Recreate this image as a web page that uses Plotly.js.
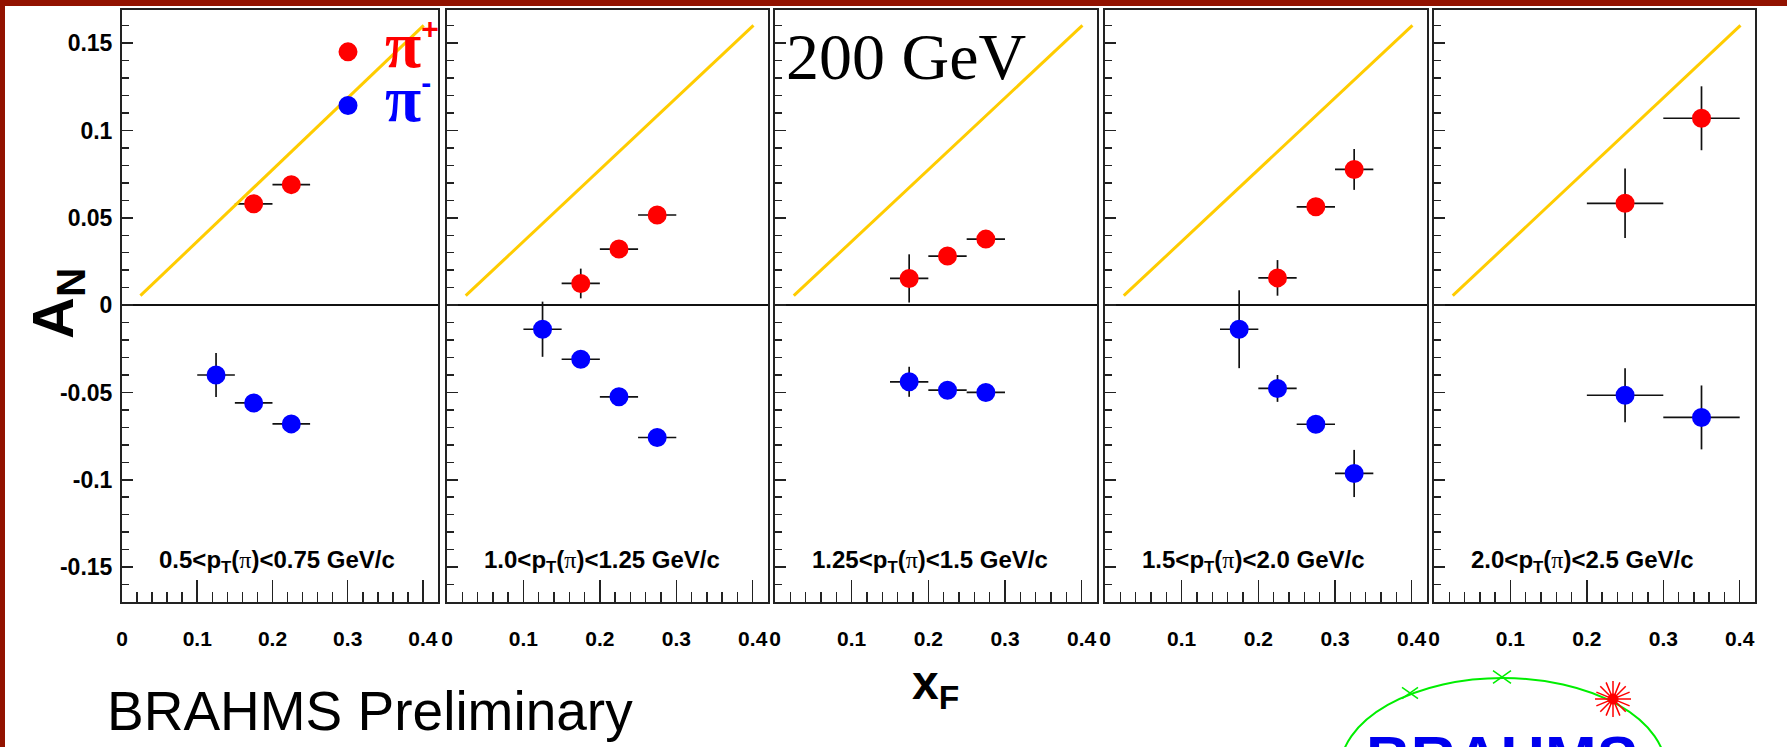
<!DOCTYPE html>
<html><head><meta charset="utf-8">
<script src="https://cdn.plot.ly/plotly-3.0.1.min.js"></script>
<style>html,body{margin:0;padding:0;background:#fff;}#plot{width:1787px;height:747px;}</style>
</head><body><div id="plot"></div>
<script>
// ---------------- data ----------------
const panelLabels = [
  '0.5&lt;p<sub>T</sub>(<span style="font-family:\'Liberation Serif\';font-weight:normal">π</span>)&lt;0.75 GeV/c',
  '1.0&lt;p<sub>T</sub>(<span style="font-family:\'Liberation Serif\';font-weight:normal">π</span>)&lt;1.25 GeV/c',
  '1.25&lt;p<sub>T</sub>(<span style="font-family:\'Liberation Serif\';font-weight:normal">π</span>)&lt;1.5 GeV/c',
  '1.5&lt;p<sub>T</sub>(<span style="font-family:\'Liberation Serif\';font-weight:normal">π</span>)&lt;2.0 GeV/c',
  '2.0&lt;p<sub>T</sub>(<span style="font-family:\'Liberation Serif\';font-weight:normal">π</span>)&lt;2.5 GeV/c'
];
const xTickVals = [0, 0.1, 0.2, 0.3, 0.4];
const xTickText = ['0', '0.1', '0.2', '0.3', '0.4'];
const yTickVals = [-0.15, -0.1, -0.05, 0, 0.05, 0.1, 0.15];
const yTickText = ['-0.15', '-0.1', '-0.05', '0', '0.05', '0.1', '0.15'];

// pi+ (red)
const piPlusX    = [[0.175, 0.225], [0.175, 0.225, 0.275], [0.175, 0.225, 0.275], [0.225, 0.275, 0.325], [0.25, 0.35]];
const piPlusY    = [[0.058, 0.069], [0.0124, 0.0321, 0.0516], [0.0153, 0.0281, 0.0378], [0.0156, 0.0563, 0.0777], [0.0583, 0.107]];
const piPlusErrY = [[0.004, 0.004], [0.0085, 0.004, 0.004], [0.0138, 0.004, 0.004], [0.0102, 0.004, 0.0117], [0.0199, 0.0183]];
const piPlusErrX = [[0.025, 0.025], [0.025, 0.025, 0.025], [0.025, 0.025, 0.025], [0.025, 0.025, 0.025], [0.05, 0.05]];
// pi- (blue)
const piMinusX    = [[0.125, 0.175, 0.225], [0.125, 0.175, 0.225, 0.275], [0.175, 0.225, 0.275], [0.175, 0.225, 0.275, 0.325], [0.25, 0.35]];
const piMinusY    = [[-0.040, -0.056, -0.068], [-0.0138, -0.031, -0.0525, -0.0758], [-0.0439, -0.0487, -0.050], [-0.0138, -0.0477, -0.0682, -0.0964], [-0.0516, -0.0643]];
const piMinusErrY = [[0.0126, 0.004, 0.004], [0.0158, 0.004, 0.004, 0.004], [0.0086, 0.004, 0.004], [0.0223, 0.0077, 0.004, 0.0135], [0.0154, 0.0183]];
const piMinusErrX = [[0.025, 0.025, 0.025], [0.025, 0.025, 0.025, 0.025], [0.025, 0.025, 0.025], [0.025, 0.025, 0.025, 0.025], [0.05, 0.05]];
// yellow reference line
const refLineX = [0.0245, 0.401];
const refLineY = [0.0054, 0.1602];

// ---------------- geometry ----------------
const W = 1787, H = 747;
const panelPx = [[122, 438], [447, 768], [775, 1097], [1105, 1427], [1434, 1755]];
const plotTop = 10, plotBottom = 602;
const px = v => v / W;
const py = v => 1 - v / H;

const FRAME = '#222';
const yTickFont = {family: 'Liberation Sans, Arial, sans-serif', size: 23, color: '#000', weight: 'bold'};
const xTickFont = {family: 'Liberation Sans, Arial, sans-serif', size: 21, color: '#000', weight: 'bold'};

const traces = [];
const layout = {
  width: W, height: H,
  margin: {l: 0, r: 0, t: 0, b: 0},
  paper_bgcolor: '#fff', plot_bgcolor: '#fff',
  showlegend: true,
  legend: {
    x: px(311), xanchor: 'left', y: py(20), yanchor: 'top',
    bgcolor: 'rgba(0,0,0,0)', borderwidth: 0, itemwidth: 64,
    font: {family: 'Liberation Serif, Times New Roman, serif', size: 39, color: '#000', weight: 'bold'},
    tracegroupgap: 0
  },
  annotations: [],
  shapes: []
};

const errStyle = {type: 'data', color: '#111', thickness: 1.7, width: 0};
const supStyle = 'font-family:\'Liberation Sans\';font-size:30px;font-weight:bold';

for (let i = 0; i < 5; i++) {
  const s = i === 0 ? '' : String(i + 1);
  const xa = 'x' + s, ya = 'y' + s;
  layout['xaxis' + s] = {
    domain: [px(panelPx[i][0]), px(panelPx[i][1])],
    anchor: ya, range: [0, 0.42],
    tickmode: 'array', tickvals: xTickVals, ticktext: xTickText,
    ticks: 'inside', ticklen: 22, tickwidth: 1.5, tickcolor: FRAME,
    minor: {ticks: 'inside', ticklen: 10, tickwidth: 1.5, tickcolor: FRAME, dtick: 0.02, tick0: 0, showgrid: false},
    tickfont: xTickFont, ticklabelstandoff: 17,
    showline: true, mirror: true, linewidth: 2, linecolor: FRAME,
    showgrid: false, zeroline: false, fixedrange: true
  };
  layout['yaxis' + s] = {
    domain: [py(plotBottom), py(plotTop)],
    anchor: xa, range: [-0.170, 0.169],
    tickmode: 'array', tickvals: yTickVals, ticktext: yTickText,
    showticklabels: i === 0,
    ticks: 'inside', ticklen: 11, tickwidth: 1.5, tickcolor: FRAME,
    minor: {ticks: 'inside', ticklen: 7, tickwidth: 1.5, tickcolor: FRAME, dtick: 0.01, tick0: 0, showgrid: false},
    tickfont: yTickFont, ticklabelstandoff: 3,
    showline: true, mirror: true, linewidth: 2, linecolor: FRAME,
    showgrid: false, zeroline: true, zerolinecolor: '#111', zerolinewidth: 2, fixedrange: true
  };

  traces.push({
    type: 'scatter', mode: 'markers', xaxis: xa, yaxis: ya,
    x: piPlusX[i], y: piPlusY[i],
    error_x: Object.assign({array: piPlusErrX[i]}, errStyle),
    error_y: Object.assign({array: piPlusErrY[i]}, errStyle),
    marker: {color: '#ff0000', size: 15, symbol: 'circle', line: {color: '#ff0000', width: 4}},
    name: '<span style="color:#ff0000"><span style="font-size:66px">π</span><sup><sup><span style="' + supStyle + '">+</span></sup></sup></span>',
    showlegend: i === 0, legendgroup: 'pip'
  });
  traces.push({
    type: 'scatter', mode: 'markers', xaxis: xa, yaxis: ya,
    x: piMinusX[i], y: piMinusY[i],
    error_x: Object.assign({array: piMinusErrX[i]}, errStyle),
    error_y: Object.assign({array: piMinusErrY[i]}, errStyle),
    marker: {color: '#0000ff', size: 15, symbol: 'circle', line: {color: '#0000ff', width: 4}},
    name: '<span style="color:#0000ff"><span style="font-size:66px">π</span><sup><sup><span style="' + supStyle + '">-</span></sup></sup></span>',
    showlegend: i === 0, legendgroup: 'pim'
  });
  traces.push({
    type: 'scatter', mode: 'lines', xaxis: xa, yaxis: ya,
    x: refLineX, y: refLineY,
    line: {color: '#ffcc00', width: 3},
    showlegend: false, hoverinfo: 'skip'
  });

  layout.annotations.push({
    xref: xa, yref: ya, x: 0.046, y: -0.147, xanchor: 'left', yanchor: 'middle',
    text: panelLabels[i], showarrow: false,
    font: {family: 'Liberation Sans, Arial, sans-serif', size: 24, color: '#000', weight: 'bold'}
  });
}

// axis titles and texts
layout.annotations.push(
  {xref: 'paper', yref: 'paper', x: px(57), y: py(304), xanchor: 'center', yanchor: 'middle',
   text: 'A<sub>N</sub>', textangle: -90, showarrow: false,
   font: {family: 'Liberation Sans, Arial, sans-serif', size: 58, color: '#000', weight: 'bold'}},
  {xref: 'paper', yref: 'paper', x: px(935), y: py(686), xanchor: 'center', yanchor: 'middle',
   text: 'x<sub>F</sub>', showarrow: false,
   font: {family: 'Liberation Sans, Arial, sans-serif', size: 48, color: '#000', weight: 'bold'}},
  {xref: 'paper', yref: 'paper', x: px(784), y: py(56), xanchor: 'left', yanchor: 'middle',
   text: '200 GeV', showarrow: false,
   font: {family: 'Liberation Serif, Times New Roman, serif', size: 66, color: '#000'}},
  {xref: 'paper', yref: 'paper', x: px(105), y: py(710.6), xanchor: 'left', yanchor: 'middle',
   text: 'BRAHMS Preliminary', showarrow: false,
   font: {family: 'Liberation Sans, Arial, sans-serif', size: 55, color: '#000'}},
  {xref: 'paper', yref: 'paper', x: px(1364), y: py(757.5), xanchor: 'left', yanchor: 'middle',
   text: 'BRAHMS', showarrow: false,
   font: {family: 'Liberation Sans, Arial, sans-serif', size: 62, color: '#0000ee', weight: 'bold'}}
);

// red frame border of the slide
layout.shapes.push(
  {type: 'rect', xref: 'paper', yref: 'paper', x0: 0, x1: px(5), y0: 0, y1: 1, fillcolor: '#921200', line: {width: 0}},
  {type: 'rect', xref: 'paper', yref: 'paper', x0: 0, x1: 1, y0: py(6), y1: 1, fillcolor: '#921200', line: {width: 0}}
);
// BRAHMS logo: green orbit ellipse, crosses and red burst
layout.shapes.push({type: 'circle', xref: 'paper', yref: 'paper',
  x0: px(1340), x1: px(1666), y0: py(862), y1: py(678), line: {color: '#00ee00', width: 2}});
function crossPath(cx, cy, r) {
  return 'M' + px(cx - r) + ',' + py(cy - r * 0.7) + ' L' + px(cx + r) + ',' + py(cy + r * 0.7) +
         ' M' + px(cx - r) + ',' + py(cy + r * 0.7) + ' L' + px(cx + r) + ',' + py(cy - r * 0.7);
}
layout.shapes.push(
  {type: 'path', xref: 'paper', yref: 'paper', path: crossPath(1410, 693, 8), line: {color: '#00ee00', width: 1.5}},
  {type: 'path', xref: 'paper', yref: 'paper', path: crossPath(1502, 677, 9), line: {color: '#00ee00', width: 1.5}}
);
let star = '';
for (let k = 0; k < 8; k++) {
  const a = k * Math.PI / 8, r = 18;
  star += 'M' + px(1613 + r * Math.cos(a)) + ',' + py(699 + r * Math.sin(a)) +
          ' L' + px(1613 - r * Math.cos(a)) + ',' + py(699 - r * Math.sin(a)) + ' ';
}
layout.shapes.push(
  {type: 'path', xref: 'paper', yref: 'paper', path: star, line: {color: '#ff0000', width: 1.5}},
  {type: 'circle', xref: 'paper', yref: 'paper', x0: px(1608), x1: px(1618), y0: py(704), y1: py(694),
   fillcolor: '#ff0000', line: {color: '#ff0000', width: 1}}
);

Plotly.newPlot('plot', traces, layout, {staticPlot: true, displayModeBar: false});
</script></body></html>
